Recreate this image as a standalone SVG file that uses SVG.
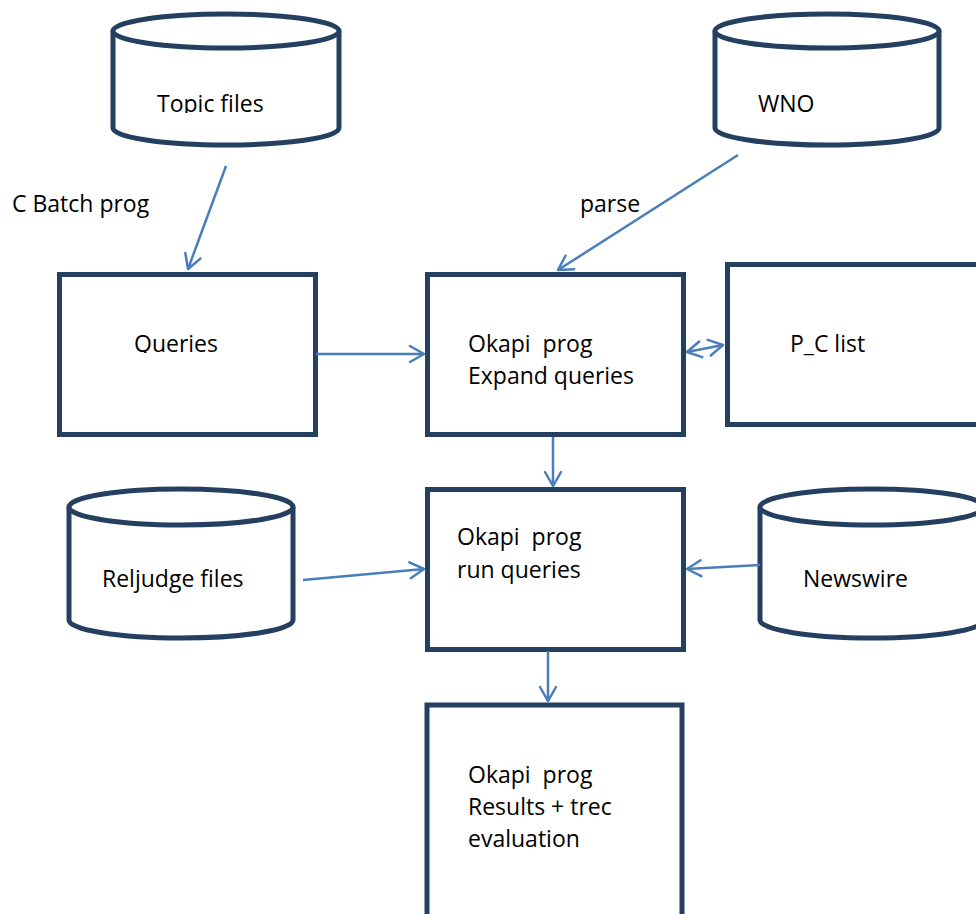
<svg xmlns="http://www.w3.org/2000/svg" width="976" height="914" viewBox="0 0 976 914">
  <style>
    .shape { fill: #ffffff; stroke: #243f60; stroke-width: 5; }
    .edge { fill: none; stroke: #4a7ebb; stroke-width: 2.5; }
    .lbl { font-family: "Open Sans", "Liberation Sans", sans-serif; font-size: 23px; fill: #000000; white-space: pre; }
  </style>
  <defs>
    <marker id="arrow" viewBox="0 0 20 20" refX="18" refY="10" markerWidth="20" markerHeight="20" markerUnits="userSpaceOnUse" orient="auto-start-reverse">
      <path d="M4,2 L18,10 L4,18" fill="none" stroke="#4a7ebb" stroke-width="2.5" stroke-linecap="round" stroke-linejoin="round"/>
    </marker>
    <!-- some labels are cut off just below the baseline -->
    <clipPath id="cutTopic"><rect x="140" y="80" width="180" height="33"/></clipPath>
    <clipPath id="cutWno"><rect x="740" y="80" width="120" height="33"/></clipPath>
    <clipPath id="cutQueries"><rect x="120" y="320" width="140" height="33"/></clipPath>
  </defs>

  <g id="topic-files">
    <path class="shape" d="M113,31 L113,128 A113,17 0 0 0 339,128 L339,31"/>
    <ellipse class="shape" cx="226" cy="31" rx="113" ry="17"/>
    <text class="lbl" x="157" y="112" clip-path="url(#cutTopic)">Topic files</text>
  </g>

  <g id="wno">
    <path class="shape" d="M715,31 L715,128 A112,17 0 0 0 939,128 L939,31"/>
    <ellipse class="shape" cx="827" cy="31" rx="112" ry="17"/>
    <text class="lbl" x="758" y="112" clip-path="url(#cutWno)">WNO</text>
  </g>

  <g id="queries">
    <rect class="shape" x="59.5" y="274.5" width="256" height="160"/>
    <text class="lbl" x="134" y="352" clip-path="url(#cutQueries)">Queries</text>
  </g>

  <g id="expand-queries">
    <rect class="shape" x="427.5" y="274.5" width="256" height="160"/>
    <text class="lbl" x="468" y="352">Okapi  prog</text>
    <text class="lbl" x="468" y="384">Expand queries</text>
  </g>

  <g id="pc-list">
    <rect class="shape" x="727.5" y="264.5" width="260" height="160"/>
    <text class="lbl" x="790" y="352">P_C list</text>
  </g>

  <g id="run-queries">
    <rect class="shape" x="427.5" y="489.5" width="256" height="160"/>
    <text class="lbl" x="457" y="545">Okapi  prog</text>
    <text class="lbl" x="457" y="578">run queries</text>
  </g>

  <g id="reljudge-files">
    <path class="shape" d="M69,507 L69,620 A112,18 0 0 0 293,620 L293,507"/>
    <ellipse class="shape" cx="181" cy="507" rx="112" ry="18"/>
    <text class="lbl" x="102" y="587">Reljudge files</text>
  </g>

  <g id="newswire">
    <path class="shape" d="M760,507 L760,620 A112,18 0 0 0 984,620 L984,507"/>
    <ellipse class="shape" cx="872" cy="507" rx="112" ry="18"/>
    <text class="lbl" x="803" y="587">Newswire</text>
  </g>

  <g id="results">
    <rect class="shape" x="427" y="705" width="255" height="230"/>
    <text class="lbl" x="468" y="783">Okapi  prog</text>
    <text class="lbl" x="468" y="815">Results + trec</text>
    <text class="lbl" x="468" y="847">evaluation</text>
  </g>

  <g id="connectors">
    <line class="edge" x1="226" y1="166" x2="188" y2="269" marker-end="url(#arrow)"/>
    <line class="edge" x1="738" y1="155" x2="558" y2="270" marker-end="url(#arrow)"/>
    <line class="edge" x1="316" y1="354" x2="424" y2="354" marker-end="url(#arrow)"/>
    <line class="edge" x1="687" y1="352" x2="723" y2="345" marker-start="url(#arrow)" marker-end="url(#arrow)"/>
    <line class="edge" x1="553" y1="437" x2="553" y2="486" marker-end="url(#arrow)"/>
    <line class="edge" x1="303" y1="580" x2="424" y2="569" marker-end="url(#arrow)"/>
    <line class="edge" x1="760" y1="565" x2="687" y2="569" marker-end="url(#arrow)"/>
    <line class="edge" x1="548" y1="651" x2="548" y2="701" marker-end="url(#arrow)"/>
  </g>

  <text class="lbl" x="12" y="212">C Batch prog</text>
  <text class="lbl" x="580" y="212">parse</text>
</svg>
